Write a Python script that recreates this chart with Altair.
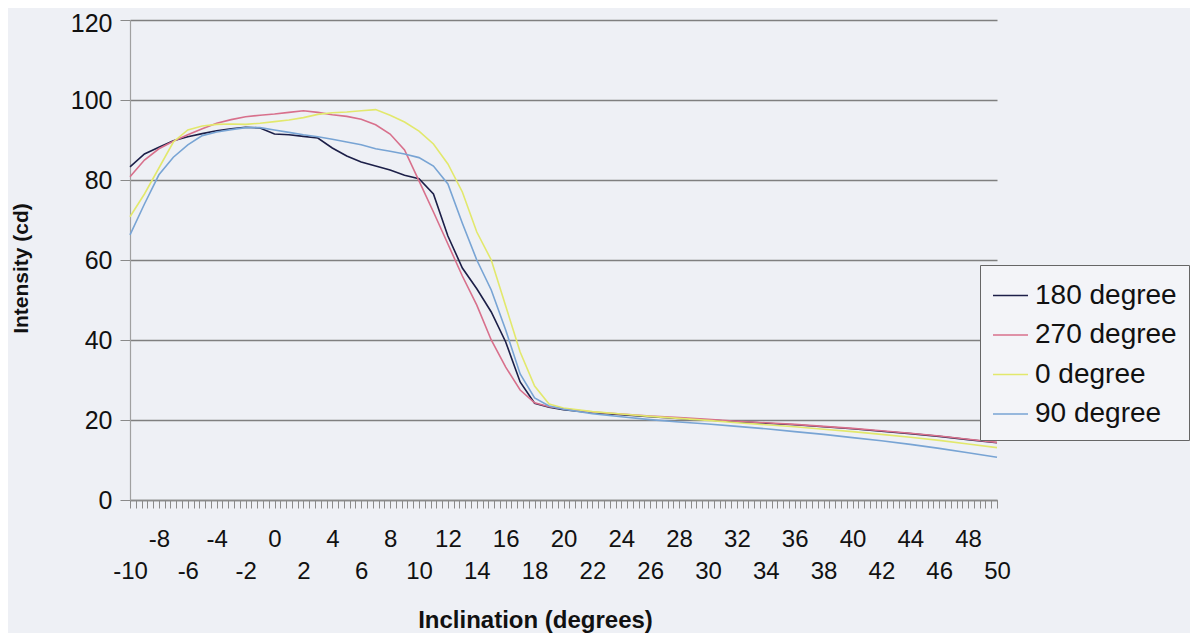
import altair as alt
import pandas as pd

# Inclination (degrees)
deg = [-10, -9, -8, -7, -6, -5, -4, -3, -2, -1, 0, 1, 2, 3, 4, 5, 6, 7, 8, 9,
       10, 11, 12, 13, 14, 15, 16, 17, 18, 19, 20, 22, 24, 26, 28, 30, 32, 34,
       36, 38, 40, 42, 44, 46, 48, 50]

s180 = [83.3, 86.5, 88.2, 89.8, 90.8, 91.6, 92.3, 92.8, 93.2, 93.0, 91.5, 91.3,
        90.9, 90.5, 88.0, 86.0, 84.5, 83.5, 82.5, 81.2, 80.3, 76.5, 66.0, 58.0,
        52.8, 47.0, 39.5, 29.5, 24.2, 23.2, 22.6, 21.8, 21.3, 20.8, 20.4, 20.0,
        19.6, 19.2, 18.8, 18.3, 17.8, 17.2, 16.6, 15.9, 15.1, 14.3]

s270 = [80.8, 85.0, 87.8, 89.7, 91.3, 92.8, 94.2, 95.1, 95.8, 96.2, 96.5, 96.9,
        97.3, 96.9, 96.3, 95.9, 95.2, 93.8, 91.5, 87.5, 79.8, 72.0, 64.0, 56.0,
        48.7, 40.0, 33.2, 27.5, 24.3, 23.3, 22.8, 22.0, 21.5, 21.0, 20.6, 20.2,
        19.7, 19.3, 18.9, 18.4, 17.9, 17.3, 16.7, 16.0, 15.2, 14.4]

s0 = [70.8, 76.5, 83.0, 89.5, 92.5, 93.5, 93.9, 94.0, 93.9, 94.2, 94.6, 95.0,
      95.6, 96.4, 96.8, 97.0, 97.3, 97.6, 96.2, 94.5, 92.2, 89.0, 84.0, 77.0,
      67.0, 60.0, 48.5, 37.0, 28.5, 24.0, 23.0, 22.1, 21.5, 20.9, 20.4, 19.9,
      19.3, 18.8, 18.3, 17.7, 17.1, 16.4, 15.7, 14.9, 14.0, 13.1]

s90 = [66.3, 74.0, 81.3, 85.7, 88.8, 91.1, 92.0, 92.6, 93.1, 93.1, 92.5, 91.9,
       91.3, 90.8, 90.2, 89.5, 88.8, 87.8, 87.2, 86.5, 85.6, 83.5, 79.0, 69.2,
       60.0, 52.5, 42.5, 31.5, 25.5, 23.5, 22.7, 21.6, 20.8, 20.1, 19.5, 19.0,
       18.4, 17.8, 17.1, 16.4, 15.6, 14.8, 13.9, 12.9, 11.8, 10.7]

series_names = ["180 degree", "270 degree", "0 degree", "90 degree"]
series_values = [s180, s270, s0, s90]
series_colors = ["#1c1f48", "#d8708c", "#e2e86c", "#78a4d4"]

y_ticks = [0, 20, 40, 60, 80, 100, 120]
x_ticks = [round(-10 + 0.4 * i, 1) for i in range(151)]

rows = []
for name, vals in zip(series_names, series_values):
    for d, v in zip(deg, vals):
        rows.append({"deg": d, "intensity": v, "series": name})
df = pd.DataFrame(rows)

label_expr = ("abs(datum.value - round(datum.value)) < 0.01 && round(datum.value) % 2 == 0"
              " ? '' + round(datum.value) : ''")

chart = alt.Chart(df).mark_line(strokeWidth=1.6).encode(
    x=alt.X("deg:Q",
            scale=alt.Scale(domain=[-10, 50], nice=False, zero=False),
            axis=alt.Axis(
                title="Inclination (degrees)",
                values=x_ticks,
                labelExpr=label_expr,
                labelOverlap=False,
                labelFlush=False,
                labelBound=False,
                labelFontSize=24,
                labelFont="Liberation Sans",
                labelColor="#111111",
                labelPadding={"condition": {"test": "abs(round(datum.value)) % 4 == 0", "value": 19},
                              "value": 51},
                labelBaseline="top",
                tickSize=8,
                tickColor="#8a8a8a",
                tickWidth=1,
                domainColor="#8a8a8a",
                domainWidth=1.5,
                grid=False,
                titleFontSize=24,
                titleFont="Liberation Sans",
                titleFontWeight="bold",
                titleColor="#111111",
                titleX=405,
                titleY=127,
                titleAlign="center",
                titleBaseline="alphabetic",
            )),
    y=alt.Y("intensity:Q",
            scale=alt.Scale(domain=[0, 120], nice=False),
            axis=alt.Axis(
                title="Intensity (cd)",
                values=y_ticks,
                labelFontSize=25,
                labelFont="Liberation Sans",
                labelColor="#111111",
                labelPadding=8,
                labelOffset={"condition": {"test": "datum.value == 120", "value": 3}, "value": 0},
                tickSize=10,
                tickColor="#8a8a8a",
                domainColor="#a0a0a0",
                domainWidth=1.2,
                grid=True,
                gridColor="#7f7f7f",
                gridWidth=1.6,
                titleFontSize=21,
                titleFont="Liberation Sans",
                titleFontWeight="bold",
                titleColor="#111111",
                titleAngle=270,
                titleX=-109,
                titleY=248,
                titleAlign="center",
                titleBaseline="middle",
            )),
    color=alt.Color("series:N",
                    scale=alt.Scale(domain=series_names, range=series_colors),
                    sort=series_names,
                    legend=alt.Legend(
                        title=None,
                        orient="none",
                        legendX=850,
                        legendY=245,
                        padding=12,
                        strokeColor="#666666",
                        fillColor="#f3f4f8",
                        labelFontSize=28,
                        labelFont="Liberation Sans",
                        labelColor="#111111",
                        labelOffset=6,
                        symbolType="stroke",
                        symbolSize=1225,
                        symbolStrokeWidth=1.6,
                        rowPadding=6.5,
                    )),
).properties(
    width=867,
    height=480,
    background="#eef0f5",
    padding={"left": 122, "top": 12, "right": 193, "bottom": 133},
    autosize=alt.AutoSizeParams(type="none"),
).configure_view(stroke=None)

chart.save("out.html", embed_options={"renderer": "svg", "actions": False})
